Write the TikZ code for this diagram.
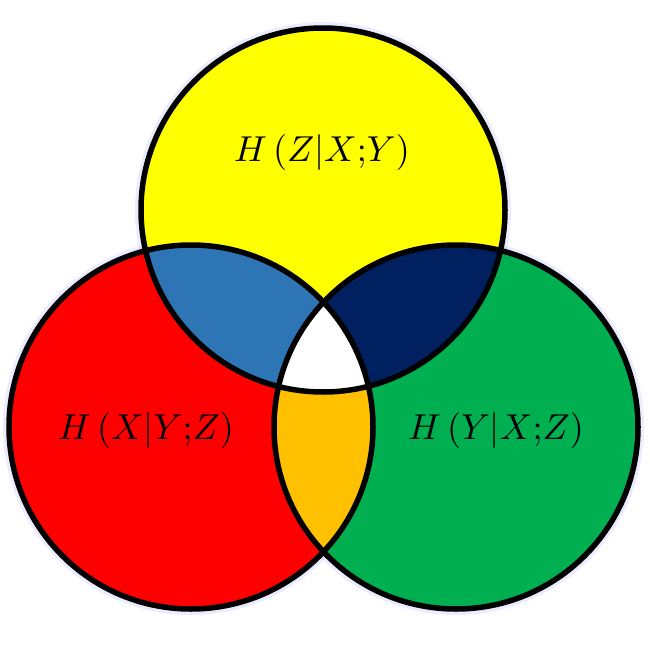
\documentclass[tikz,border=0pt]{standalone}
\begin{document}
\begin{tikzpicture}[x=1pt,y=-1pt,
  ring/.style={draw=black,line width=5.5pt},
  lab/.style={scale=3.6,inner sep=0pt}]
\useasboundingbox (0,0) rectangle (650,650);
\def\R{182}
\coordinate (cz) at (323,210);
\coordinate (cx) at (191,427);
\coordinate (cy) at (456,427);
% glow
\foreach \c in {cz,cx,cy}{
  \fill[blue!30,opacity=0.25] (\c) circle (\R+6);
}
\fill[color={rgb,255:red,255;green,255;blue,0}] (cz) circle (\R);
\fill[color={rgb,255:red,255;green,0;blue,0}] (cx) circle (\R);
\fill[color={rgb,255:red,0;green,176;blue,80}] (cy) circle (\R);
\begin{scope}
  \clip (cz) circle (\R);
  \fill[color={rgb,255:red,46;green,117;blue,182}] (cx) circle (\R);
  \fill[color={rgb,255:red,0;green,32;blue,96}] (cy) circle (\R);
\end{scope}
\begin{scope}
  \clip (cx) circle (\R);
  \fill[color={rgb,255:red,255;green,192;blue,0}] (cy) circle (\R);
  \clip (cy) circle (\R);
  \fill[white] (cz) circle (\R);
\end{scope}
\draw[ring] (cz) circle (\R);
\draw[ring] (cx) circle (\R);
\draw[ring] (cy) circle (\R);
\node[lab] (lz) at (322,152) {$H\left(Z|X{;}Y\right)$};
\node[lab] (lx) at (146,430) {$H\left(X|Y{;}Z\right)$};
\node[lab] (ly) at (496,430) {$H\left(Y|X{;}Z\right)$};
\end{tikzpicture}
\end{document}
